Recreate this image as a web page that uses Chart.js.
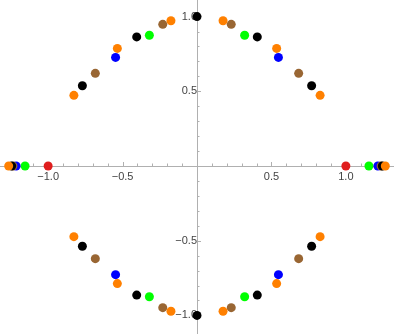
<!DOCTYPE html>
<html>
<head>
<meta charset="utf-8">
<script src="https://cdn.jsdelivr.net/npm/chart.js@4"></script>
<style>
  html, body { margin: 0; padding: 0; background: #fff; overflow: hidden; }
  /* the centred axes keep a few px of room round the plot, so the canvas
     is a bit larger than the window and shifted to put the plot edge to edge */
  #wrap { position: absolute; left: -4px; top: -10px; width: 402px; height: 355px; }
</style>
</head>
<body>
<div id="wrap"><canvas id="myChart"></canvas></div>
<script>
// point sets
const orangeX = [0.175, 0.535, 0.827, 1.265, 0.827, 0.535, 0.175, -0.175, -0.535, -0.827, -1.265, -0.827, -0.535, -0.175];
const orangeY = [0.972, 0.787, 0.473, 0, -0.473, -0.787, -0.972, -0.972, -0.787, -0.473, 0, 0.473, 0.787, 0.972];
const blackX = [0, 0.405, 0.77, 1.245, 0.77, 0.405, 0, -0.405, -0.77, -1.245, -0.77, -0.405];
const blackY = [1, 0.864, 0.537, 0, -0.537, -0.864, -1, -0.864, -0.537, 0, 0.537, 0.864];
const brownX = [0.23, 0.683, 1.237, 0.683, 0.23, -0.23, -0.683, -1.237, -0.683, -0.23];
const brownY = [0.948, 0.62, 0, -0.62, -0.948, -0.948, -0.62, 0, 0.62, 0.948];
const blueX = [0.547, 1.215, 0.547, -0.547, -1.215, -0.547];
const blueY = [0.727, 0, -0.727, -0.727, 0, 0.727];
const greenX = [0.32, 1.155, 0.32, -0.32, -1.155, -0.32];
const greenY = [0.875, 0, -0.875, -0.875, 0, 0.875];
const redX = [1, -1];
const redY = [0, 0];

const majorTicks = [-1, -0.5, 0.5, 1];

function pts(xs, ys){
    return xs.map((x, i) => ({x: x, y: ys[i]}));
}

function isMajor(v){
    return majorTicks.some(m => Math.abs(m - v) < 1e-6);
}

function onStep(v){
    return Math.abs(v * 10 - Math.round(v * 10)) < 1e-6 && Math.abs(v) > 1e-6;
}

const axisColor = '#b0b0b0';

// mathematica-ish tick marks: x ticks point up, y ticks point right
const tickMarks = {
    id: 'tickMarks',
    beforeDatasetsDraw(chart){
        const ctx = chart.ctx, xs = chart.scales.x, ys = chart.scales.y;
        const x0 = xs.getPixelForValue(0), y0 = ys.getPixelForValue(0);
        ctx.save();
        ctx.strokeStyle = axisColor;
        ctx.lineWidth = 1;
        ctx.beginPath();
        xs.ticks.forEach(t => {
            if(!onStep(t.value)) return;
            const px = Math.round(xs.getPixelForValue(t.value)) + 0.5;
            const len = isMajor(t.value) ? 4 : 2.5;
            ctx.moveTo(px, y0);
            ctx.lineTo(px, y0 - len);
        });
        ys.ticks.forEach(t => {
            if(!onStep(t.value)) return;
            const py = Math.round(ys.getPixelForValue(t.value)) + 0.5;
            const len = isMajor(t.value) ? 4 : 2.5;
            ctx.moveTo(x0, py);
            ctx.lineTo(x0 + len, py);
        });
        ctx.stroke();
        ctx.restore();
    }
};

const labelFont = {family: 'Liberation Sans', size: 11};

function tickLabel(v){
    if(!isMajor(v)) return '';
    const s = Math.abs(v).toFixed(1);
    return v < 0 ? '\u2212' + s : s;
}

new Chart('myChart', {
    type: 'scatter',
    data: {
        datasets: [
            {data: pts(orangeX, orangeY), backgroundColor: '#ff8000'},
            {data: pts(blackX, blackY), backgroundColor: '#000000'},
            {data: pts(brownX, brownY), backgroundColor: '#996633'},
            {data: pts(blueX, blueY), backgroundColor: '#0000ff'},
            {data: pts(greenX, greenY), backgroundColor: '#00ff00'},
            {data: pts(redX, redY), backgroundColor: '#e01e1e'}
        ]
    },
    options: {
        responsive: true,
        maintainAspectRatio: false,
        animation: false,
        elements: {point: {radius: 4.5, borderWidth: 0, hoverRadius: 4.5}},
        plugins: {legend: {display: false}, tooltip: {enabled: false}},
        scales: {
            x: {
                type: 'linear',
                position: {y: 0},
                min: -1.32,
                max: 1.32,
                grid: {display: false, drawTicks: false},
                border: {display: true, color: axisColor},
                ticks: {
                    stepSize: 0.1,
                    autoSkip: false,
                    maxRotation: 0,
                    padding: 4,
                    color: '#444',
                    font: labelFont,
                    callback: tickLabel
                }
            },
            y: {
                type: 'linear',
                position: {x: 0},
                min: -1.127,
                max: 1.107,
                grid: {display: false, drawTicks: false},
                border: {display: true, color: axisColor},
                ticks: {
                    stepSize: 0.1,
                    autoSkip: false,
                    padding: 4,
                    color: '#444',
                    font: labelFont,
                    callback: tickLabel
                }
            }
        }
    },
    plugins: [tickMarks]
});
</script>
</body>
</html>
